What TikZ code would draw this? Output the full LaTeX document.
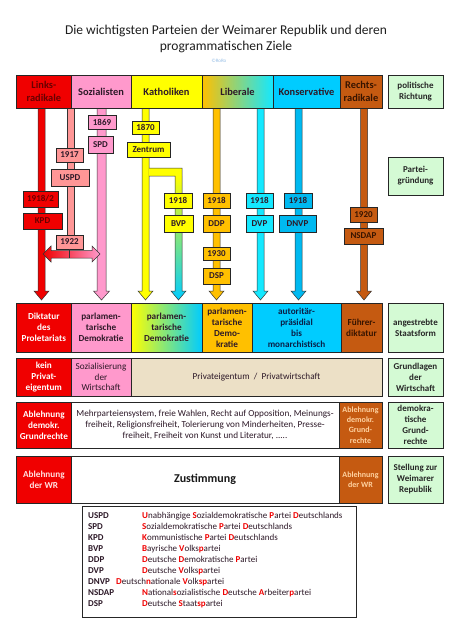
\documentclass[tikz,border=0pt]{standalone}
\usepackage{fontspec}
\setmainfont{Carlito}
\definecolor{cred}{RGB}{240,0,0}
\definecolor{cpink}{RGB}{255,153,204}
\definecolor{csalmon}{RGB}{255,150,150}
\definecolor{cyel}{RGB}{255,255,0}
\definecolor{corange}{RGB}{255,192,0}
\definecolor{ccyan}{RGB}{20,232,255}
\definecolor{cblue}{RGB}{0,185,240}
\definecolor{ckons}{RGB}{0,204,255}
\definecolor{cbrown}{RGB}{197,90,17}
\definecolor{cgreen}{RGB}{212,250,212}
\definecolor{cbeige}{RGB}{236,224,198}
\definecolor{cdarkred}{RGB}{105,0,0}
\definecolor{cdark}{RGB}{45,25,40}
\definecolor{cnavy}{RGB}{10,30,70}
\definecolor{cdbrown}{RGB}{55,20,0}
\definecolor{clight}{RGB}{255,210,160}
\definecolor{cpinkwhite}{RGB}{255,225,225}
\definecolor{ctitle}{RGB}{30,30,30}
\definecolor{cRoRo}{RGB}{150,190,230}
\newcommand\bx[7]{\node[#6,minimum width={#4-#2},minimum height={#5-#3}] (#1) at ({(#2+#4)/2},{(#3+#5)/2}) {#7};}
\newcommand\varr[7]{\path[arr,#7] ({#1-#4},#2) -- ({#1+#4},#2) -- ({#1+#4},{#3-#6}) -- ({#1+#5},{#3-#6}) -- (#1,#3) -- ({#1-#5},{#3-#6}) -- ({#1-#4},{#3-#6}) -- cycle;}
\newcommand\rl[1]{\textcolor{cred}{\textbf{#1}}}
\begin{document}
\begin{tikzpicture}[x=1pt,y=-1pt,
  box/.style={draw=black!85,line width=0.6pt,inner sep=0pt,align=center,font=\fontsize{9.2}{11}\selectfont\bfseries,text=cdark},
  nb/.style={font=\fontsize{9.2}{10.8}\selectfont},
  sm/.style={font=\fontsize{8}{10.4}\selectfont\bfseries},
  hdr/.style={box,font=\fontsize{10.4}{13}\selectfont\bfseries},
  dat/.style={box,font=\fontsize{9}{10}\selectfont\bfseries},
  lab/.style={box,fill=cgreen,text=black!85,font=\fontsize{9}{11}\selectfont\bfseries},
  arr/.style={draw=black!80,line width=0.5pt},
  legt/.style={inner sep=0pt,anchor=base west,text=cdark,font=\fontsize{9}{11}\selectfont},
]
\useasboundingbox (0,0) rectangle (452,640);
\fill[white] (0,0) rectangle (452,640);

% title
\node[font=\fontsize{13.5}{16.3}\selectfont,text=ctitle,align=center] (title) at (226,38.8) {Die wichtigsten Parteien der Weimarer Republik und deren\\programmatischen Ziele};
\node[font=\fontsize{5}{6}\selectfont,text=cRoRo,inner sep=0pt] (roro) at (219,60.5) {\textcopyright RoRo};

% arrows
\varr{41.5}{108}{300}{3.5}{7.5}{9}{fill=cred}
\path[arr,fill=csalmon] (67,108) rectangle (74,240);
\varr{101.5}{108}{300}{4.5}{8}{9}{fill=cpink}
\varr{145.5}{108}{300}{3.5}{7.5}{9}{fill=cyel}
\path[fill=cyel] (149,168) rectangle (182,176);
\path[top color=cyel,bottom color=ckons] (175,176) -- (182,176) -- (182,291) -- (186,291) -- (178.5,300) -- (171,291) -- (175,291) -- cycle;
\draw[arr] (149,168) -- (182,168) -- (182,291) -- (186,291) -- (178.5,300) -- (171,291) -- (175,291) -- (175,176) -- (149,176);
\varr{216.5}{108}{300}{3.5}{7.5}{9}{fill=corange}
\varr{260.5}{108}{300}{3.5}{7.5}{9}{fill=ccyan}
\varr{298.5}{108}{300}{3.5}{7.5}{9}{fill=cblue}
\varr{364}{108}{300}{3.5}{7.5}{9}{fill=cbrown}

% header
\bx{hLinks}{16.7}{75}{71}{108}{hdr,fill=cred,text=cdarkred}{Links-\\radikale}
\bx{hSoz}{71}{75}{131}{108}{hdr,fill=cpink}{Sozialisten}
\bx{hKath}{131}{75}{202}{108}{hdr,fill=cyel}{Katholiken}
\bx{hLib}{202}{75}{273}{108}{hdr,left color=corange,right color=ccyan}{Liberale}
\bx{hKons}{273}{75}{340}{108}{hdr,fill=ckons}{Konservative}
\bx{hRechts}{340}{75}{382}{108}{hdr,fill=cbrown,text=cdbrown}{Rechts-\\radikale}
\bx{hRicht}{388}{75}{443}{108}{lab}{politische\\Richtung}

% founding boxes
\bx{b1869}{88}{115}{116}{129}{dat,fill=cpink}{1869}
\bx{bSPD}{88}{136}{113}{153}{dat,fill=cpink}{SPD}
\bx{b1870}{132}{121}{159}{134}{dat,fill=cyel}{1870}
\bx{bZentrum}{127}{142}{170}{157}{dat,fill=cyel}{Zentrum}
\bx{b1917}{56}{148}{83}{162}{dat,fill=csalmon}{1917}
\bx{bUSPD}{51}{169}{89}{186}{dat,fill=csalmon}{USPD}
\bx{b19182}{23}{191}{58}{207}{dat,fill=cred,text=cdarkred}{1918/2}
\bx{bKPD}{23}{213}{62}{229}{dat,fill=cred,text=cdarkred}{KPD}
\bx{b1922}{56}{235}{83}{249}{dat,fill=csalmon}{1922}
\bx{b1918k}{164}{193}{192}{208}{dat,fill=cyel}{1918}
\bx{bBVP}{164}{215}{193}{232}{dat,fill=cyel}{BVP}
\bx{b1918l}{203}{193}{230}{208}{dat,fill=corange}{1918}
\bx{bDDP}{203}{215}{230}{232}{dat,fill=corange}{DDP}
\bx{b1930}{203}{247}{230}{260}{dat,fill=corange}{1930}
\bx{bDSP}{203}{268}{230}{284}{dat,fill=corange}{DSP}
\bx{b1918v}{246}{193}{273}{208}{dat,fill=ccyan}{1918}
\bx{bDVP}{246}{215}{273}{232}{dat,fill=ccyan}{DVP}
\bx{b1918n}{284}{193}{312}{208}{dat,fill=cblue}{1918}
\bx{bDNVP}{279}{215}{316}{232}{dat,fill=cblue}{DNVP}
\bx{b1920}{350}{207}{377}{222}{dat,fill=cbrown,text=cdbrown}{1920}
\bx{bNSDAP}{344}{228}{383}{244}{dat,fill=cbrown,text=cdbrown}{NSDAP}
\bx{gGruend}{388}{157}{443}{195}{lab}{Partei-\\gründung}

% split of USPD in 1922
\coordinate (hbot) at (70,258);
\path[arr,left color=cred,right color=cpink] (43,254) -- (51,246) -- (51,250.5) -- (92,250.5) -- (92,246) -- (100,254) -- (92,262) -- (92,258) -- (51,258) -- (51,262) -- cycle;
\draw[arr] (b1922.south) -- (b1922.south |- hbot);

% row 2
\bx{r2a}{16.7}{303}{71}{352}{box,fill=cred,text=white}{Diktatur\\des\\Proletariats}
\bx{r2b}{71}{303}{131}{352}{box,fill=cpink}{parlamen-\\tarische\\Demokratie}
\bx{r2c}{131}{303}{202}{352}{box,left color=cyel,right color=ckons}{parlamen-\\tarische\\Demokratie}
\bx{r2d}{202}{303}{252}{352}{box,fill=corange}{parlamen-\\tarische\\Demo-\\kratie}
\bx{r2e}{252}{303}{341}{352}{box,fill=ckons,text=cnavy}{autoritär-\\präsidial\\bis\\monarchistisch}
\bx{r2f}{341}{303}{382}{352}{box,fill=cbrown,text=cdbrown}{Führer-\\diktatur}
\bx{g2}{388}{303}{443}{352}{lab}{angestrebte\\Staatsform}

% row 3
\bx{r3a}{16.7}{358}{71}{396}{box,fill=cred,text=white}{kein\\Privat-\\eigentum}
\bx{r3b}{71}{358}{131}{396}{box,fill=cpink,nb}{Sozialisierung\\der\\Wirtschaft}
\bx{r3c}{131}{358}{382}{396}{box,fill=cbeige,nb}{Privateigentum \ / \ Privatwirtschaft}
\bx{g3}{388}{358}{443}{396}{lab}{Grundlagen\\der\\Wirtschaft}

% row 4
\bx{r4a}{16.7}{402}{71}{448}{box,fill=cred,text=white}{Ablehnung\\demokr.\\Grundrechte}
\bx{r4b}{71}{402}{339}{448}{box,fill=white,nb}{Mehrparteiensystem, freie Wahlen, Recht auf Opposition, Meinungs-\\freiheit, Religionsfreiheit, Tolerierung von Minderheiten, Presse-\\freiheit, Freiheit von Kunst und Literatur, .....}
\bx{r4c}{339}{402}{382}{448}{box,fill=cbrown,text=clight,sm}{Ablehnung\\demokr.\\Grund-\\rechte}
\bx{g4}{388}{402}{443}{448}{lab}{demokra-\\tische\\Grund-\\rechte}

% row 5
\bx{r5a}{16.7}{456}{71}{503}{box,fill=cred,text=cpinkwhite}{Ablehnung\\der WR}
\bx{r5b}{71}{456}{339}{503}{box,fill=white,font=\fontsize{12}{14}\selectfont\bfseries,text=black!90}{Zustimmung}
\bx{r5c}{339}{456}{382}{503}{box,fill=cbrown,text=clight,sm}{Ablehnung\\der WR}
\bx{g5}{388}{456}{443}{503}{lab}{Stellung zur\\Weimarer\\Republik}

% legend
\bx{leg}{82}{506}{356}{617}{box,line width=0.8pt,fill=white}{}
\node[legt] (aU) at (88,518) {\textbf{USPD}};
\node[legt] (fU) at (142,518) {\rl{U}nabhängige \rl{S}ozialdemokratische \rl{P}artei \rl{D}eutschlands};
\node[legt] (aS) at (88,529) {\textbf{SPD}};
\node[legt] (fS) at (142,529) {\rl{S}ozialdemokratische \rl{P}artei \rl{D}eutschlands};
\node[legt] (aK) at (88,540) {\textbf{KPD}};
\node[legt] (fK) at (142,540) {\rl{K}ommunistische \rl{P}artei \rl{D}eutschlands};
\node[legt] (aB) at (88,551) {\textbf{BVP}};
\node[legt] (fB) at (142,551) {\rl{B}ayrische \rl{V}olks\rl{p}artei};
\node[legt] (aD) at (88,562) {\textbf{DDP}};
\node[legt] (fD) at (142,562) {\rl{D}eutsche \rl{D}emokratische \rl{P}artei};
\node[legt] (aV) at (88,573) {\textbf{DVP}};
\node[legt] (fV) at (142,573) {\rl{D}eutsche \rl{V}olks\rl{p}artei};
\node[legt] (aN) at (88,584) {\textbf{DNVP}};
\node[legt] (fN) at (116,584) {\rl{D}eutsch\rl{n}ationale \rl{V}olk\rl{sp}artei};
\node[legt] (aNS) at (88,595) {\textbf{NSDAP}};
\node[legt] (fNS) at (142,595) {\rl{N}ational\rl{s}ozialistische \rl{D}eutsche \rl{A}rbeiter\rl{p}artei};
\node[legt] (aDS) at (88,606) {\textbf{DSP}};
\node[legt] (fDS) at (142,606) {\rl{D}eutsche \rl{S}taat\rl{sp}artei};
\end{tikzpicture}
\end{document}
